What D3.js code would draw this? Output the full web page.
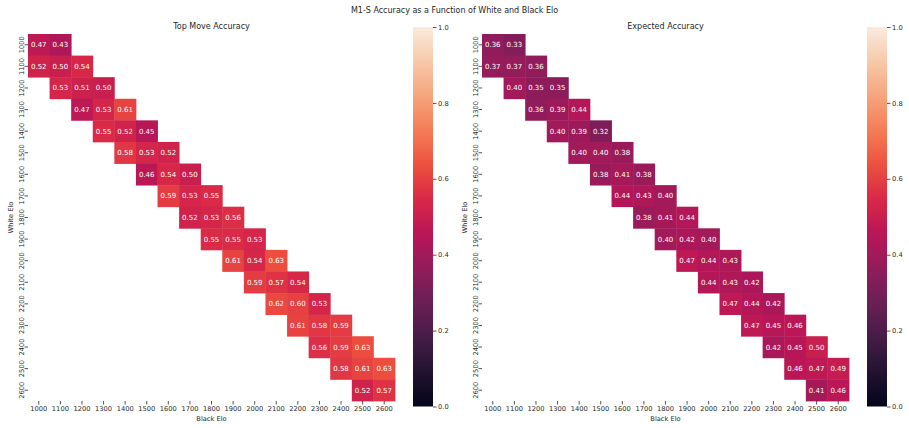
<!DOCTYPE html>
<html>
<head>
<meta charset="utf-8">
<script src="https://cdn.jsdelivr.net/npm/d3@7"></script>
<style>
  body { margin: 0; background: #fff; }
  text { font-family: "DejaVu Sans", sans-serif; fill: #262626; }
</style>
</head>
<body>
<div id="chart"></div>
<script>
// elo buckets, both axes
const elos = [1000, 1100, 1200, 1300, 1400, 1500, 1600, 1700, 1800, 1900, 2000, 2100, 2200, 2300, 2400, 2500, 2600];

// each row holds the band values for black elo = white-100, white, white+100 (clipped at the ends)
const topMoveAcc = [
  [0.47, 0.43],
  [0.52, 0.50, 0.54],
  [0.53, 0.51, 0.50],
  [0.47, 0.53, 0.61],
  [0.55, 0.52, 0.45],
  [0.58, 0.53, 0.52],
  [0.46, 0.54, 0.50],
  [0.59, 0.53, 0.55],
  [0.52, 0.53, 0.56],
  [0.55, 0.55, 0.53],
  [0.61, 0.54, 0.63],
  [0.59, 0.57, 0.54],
  [0.62, 0.60, 0.53],
  [0.61, 0.58, 0.59],
  [0.56, 0.59, 0.63],
  [0.58, 0.61, 0.63],
  [0.52, 0.57]
];
const expectedAcc = [
  [0.36, 0.33],
  [0.37, 0.37, 0.36],
  [0.40, 0.35, 0.35],
  [0.36, 0.39, 0.44],
  [0.40, 0.39, 0.32],
  [0.40, 0.40, 0.38],
  [0.38, 0.41, 0.38],
  [0.44, 0.43, 0.40],
  [0.38, 0.41, 0.44],
  [0.40, 0.42, 0.40],
  [0.47, 0.44, 0.43],
  [0.44, 0.43, 0.42],
  [0.47, 0.44, 0.42],
  [0.47, 0.45, 0.46],
  [0.42, 0.45, 0.50],
  [0.46, 0.47, 0.49],
  [0.41, 0.46]
];
const cbarTicks = [0.0, 0.2, 0.4, 0.6, 0.8, 1.0];

// seaborn "rocket" approximated from its sampled palette
const rocketStops = ["#03051a", "#221331", "#451c47", "#691f55", "#921c5b", "#b91657",
                     "#d92847", "#ed503e", "#f47d57", "#f6a47c", "#f7c9aa", "#faebdd"];
const rocket = d3.scaleLinear()
  .domain(rocketStops.map((_, i) => i / (rocketStops.length - 1)))
  .range(rocketStops)
  .interpolate(d3.interpolateRgb)
  .clamp(true);

const W = 909, H = 428;
const svg = d3.select("#chart").append("svg").attr("width", W).attr("height", H);

svg.append("text")
  .attr("x", 454.5).attr("y", 12.5)
  .attr("text-anchor", "middle")
  .attr("font-size", "8px")
  .text("M1-S Accuracy as a Function of White and Black Elo");

const panels = [
  { left: 28, cbx: 413, title: "Top Move Accuracy", data: topMoveAcc, id: "g0" },
  { left: 482, cbx: 867, title: "Expected Accuracy", data: expectedAcc, id: "g1" }
];
const gridTop = 34, size = 367;
const cbTop = 27, cbBottom = 406.5, cbW = 20;

function cells(rows) {
  const out = [];
  rows.forEach((row, r) => {
    const start = Math.max(0, r - 1);
    row.forEach((v, k) => out.push({ row: elos[r], col: elos[start + k], v }));
  });
  return out;
}

panels.forEach(p => {
  const x = d3.scaleBand().domain(elos).range([p.left, p.left + size]);
  const y = d3.scaleBand().domain(elos).range([gridTop, gridTop + size]);
  const g = svg.append("g");

  g.append("text")
    .attr("x", p.left + size / 2).attr("y", 29)
    .attr("text-anchor", "middle")
    .attr("font-size", "8px")
    .text(p.title);

  const data = cells(p.data);
  g.selectAll("rect.cell").data(data).enter().append("rect")
    .attr("class", "cell")
    .attr("x", d => x(d.col))
    .attr("y", d => y(d.row))
    .attr("width", x.bandwidth() + 0.4)
    .attr("height", y.bandwidth() + 0.4)
    .attr("fill", d => rocket(d.v));

  g.selectAll("text.ann").data(data).enter().append("text")
    .attr("class", "ann")
    .attr("x", d => x(d.col) + x.bandwidth() / 2)
    .attr("y", d => y(d.row) + y.bandwidth() / 2)
    .attr("dy", "0.36em")
    .attr("text-anchor", "middle")
    .attr("font-size", "7px")
    .style("fill", "#fff")
    .text(d => d.v.toFixed(2));

  // x axis
  const xa = g.append("g").attr("transform", `translate(0,${gridTop + size})`)
    .call(d3.axisBottom(x).tickSize(3.5).tickPadding(2));
  xa.select(".domain").remove();
  xa.selectAll("line").attr("stroke", "#262626").attr("stroke-width", 0.8);
  xa.selectAll("text").attr("font-size", "6.7px").attr("font-family", "DejaVu Sans").style("fill", "#262626");

  // y axis, rotated labels
  const ya = g.append("g").attr("transform", `translate(${p.left},0)`)
    .call(d3.axisLeft(y).tickSize(3.5).tickFormat(""));
  ya.select(".domain").remove();
  ya.selectAll("line").attr("stroke", "#262626").attr("stroke-width", 0.8);
  g.selectAll("text.ytl").data(elos).enter().append("text")
    .attr("class", "ytl")
    .attr("transform", d => `translate(${p.left - 3.8},${y(d) + y.bandwidth() / 2}) rotate(-90)`)
    .attr("text-anchor", "middle")
    .attr("font-size", "6.7px")
    .text(d => d);

  g.append("text")
    .attr("transform", `translate(${p.left - 15.5},${gridTop + size / 2}) rotate(-90)`)
    .attr("text-anchor", "middle")
    .attr("font-size", "6.7px")
    .text("White Elo");
  g.append("text")
    .attr("x", p.left + size / 2).attr("y", 421)
    .attr("text-anchor", "middle")
    .attr("font-size", "6.7px")
    .text("Black Elo");

  // colorbar
  const cy = d3.scaleLinear().domain([0, 1]).range([cbBottom, cbTop]);
  const grad = svg.append("defs").append("linearGradient")
    .attr("id", p.id).attr("x1", 0).attr("y1", 1).attr("x2", 0).attr("y2", 0);
  d3.range(0, 1.0001, 0.02).forEach(t => {
    grad.append("stop").attr("offset", t).attr("stop-color", rocket(t));
  });
  g.append("rect")
    .attr("x", p.cbx).attr("y", cy(1))
    .attr("width", cbW).attr("height", cy(0) - cy(1))
    .attr("fill", `url(#${p.id})`);
  const ca = g.append("g").attr("transform", `translate(${p.cbx + cbW},0)`)
    .call(d3.axisRight(cy).tickValues(cbarTicks).tickFormat(d3.format(".1f")).tickSize(3.5).tickPadding(1.5));
  ca.select(".domain").remove();
  ca.selectAll("line").attr("stroke", "#262626").attr("stroke-width", 0.8);
  ca.selectAll("text").attr("font-size", "6.7px").attr("font-family", "DejaVu Sans").style("fill", "#262626");
});
</script>
</body>
</html>
